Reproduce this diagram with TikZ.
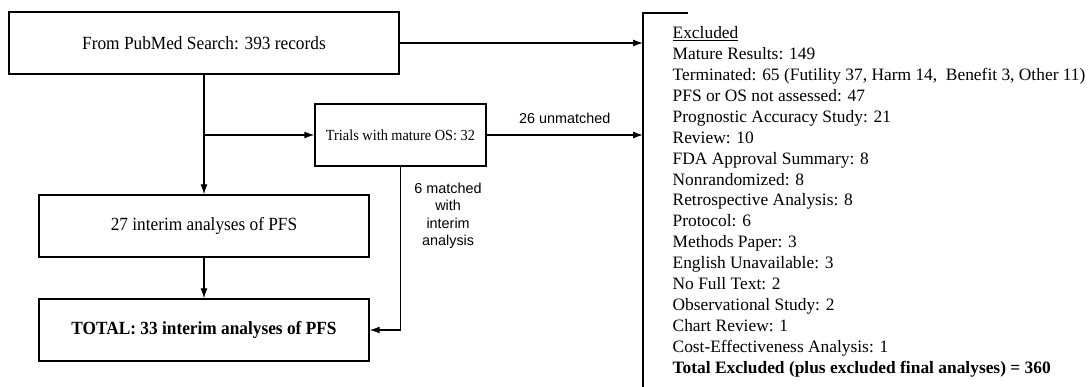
\documentclass[tikz,border=0pt]{standalone}
\usepackage{fontspec}
\setmainfont{Liberation Serif}
\setsansfont{Liberation Sans}
\newfontfamily\boxfont[FakeStretch=0.93]{Liberation Serif}
\usetikzlibrary{positioning, arrows.meta}

\tikzset{
  box/.style={draw, line width=1.3pt, minimum height=62pt, inner sep=0pt,
    font=\boxfont\fontsize{18.6}{21}\selectfont},
  lbl/.style={font=\sffamily\fontsize{14.4}{17.3}\selectfont, align=center},
}

\begin{document}
\begin{tikzpicture}[x=1pt, y=-1pt, line width=1.3pt, >={Latex[length=10pt,width=7pt]}, node distance=104pt, on grid]
    \useasboundingbox (0,0) rectangle (1090,387);
    \node[box, minimum width=390pt] (pub) at (204,43) {From PubMed Search: 393 records};
    \node[box, minimum width=171pt, font=\boxfont\fontsize{15.4}{17}\selectfont] (os) at (400.5,135) {Trials with mature OS: 32};
    \node[box, minimum width=330pt] (interim) at (204,226) {27 interim analyses of PFS};
    \node[box, minimum width=330pt, font=\boxfont\bfseries\fontsize{18.6}{21}\selectfont] (total) [below=of interim] {TOTAL: 33 interim analyses of PFS};

    % bracket round the excluded list
    \coordinate (brtop) at (688,13);
    \coordinate (brbot) at (643,387);
    \draw (brtop) -| (brbot);
    \node[anchor=north west, align=left, inner sep=0pt, font=\fontsize{17.4}{20.9}\selectfont] (excl) at (672,26)
      {\underline{Excluded}\\
       Mature Results: 149\\
       Terminated: 65 (Futility 37, Harm 14,\ \ Benefit 3, Other 11)\\
       PFS or OS not assessed: 47\\
       Prognostic Accuracy Study: 21\\
       Review: 10\\
       FDA Approval Summary: 8\\
       Nonrandomized: 8\\
       Retrospective Analysis: 8\\
       Protocol: 6\\
       Methods Paper: 3\\
       English Unavailable: 3\\
       No Full Text: 2\\
       Observational Study: 2\\
       Chart Review: 1\\
       Cost-Effectiveness Analysis: 1\\
       \textbf{Total Excluded (plus excluded final analyses) = 360}};

    \coordinate (split) at (pub.south |- os.west);
    \draw[->] (pub.east) -- (pub.east -| brbot);
    \draw[->] (pub.south) -- (interim.north);
    \draw[->] (split) -- (os.west);
    \draw[->] (interim.south) -- (total.north);
    \draw[->] (os.east) -- node[lbl, above=7pt] {26 unmatched} (os.east -| brbot);
    \draw[->] (os.south) |- node[lbl, right=10pt, pos=0.15] {6 matched\\with\\interim\\analysis} (total.east);
\end{tikzpicture}
\end{document}
